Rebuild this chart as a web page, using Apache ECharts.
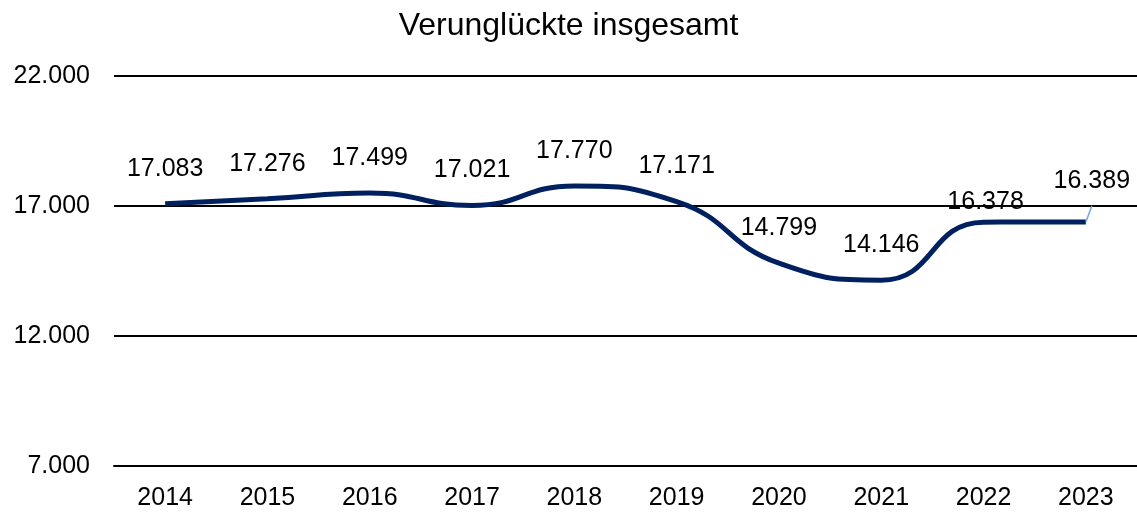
<!DOCTYPE html>
<html>
<head>
<meta charset="utf-8">
<script src="https://cdn.jsdelivr.net/npm/echarts@6/dist/echarts.min.js"></script>
<style>
    html, body { margin: 0; padding: 0; background: #fff; }
    #main { width: 1137px; height: 514px; }
</style>
</head>
<body>
<div id="main"></div>
<script>
    const years = ['2014', '2015', '2016', '2017', '2018', '2019', '2020', '2021', '2022', '2023']
    const verunglueckte = [17083, 17276, 17499, 17021, 17770, 17171, 14799, 14146, 16378, 16389]
    const yMin = 7000
    const yMax = 22000
    const yStep = 5000

    // Tausenderpunkt wie im Original
    function fmt(v) {
        return String(Math.round(v)).replace(/\B(?=(\d{3})+(?!\d))/g, '.')
    }

    const font = 'Liberation Sans, Arial, sans-serif'

    const seriesData = verunglueckte.map((v, i) => {
        if (i === years.length - 1) {
            return {
                value: v,
                label: { offset: [6, -6] },
                labelLine: { show: true, lineStyle: { color: '#6fa8dc', width: 1.5 } }
            }
        }
        if (i === years.length - 2) {
            // Beschriftung 2022 sitzt tiefer, auf der Linie
            return { value: v, label: { offset: [2, 15] } }
        }
        return v
    })

    const myChart = echarts.init(document.getElementById('main'))
    myChart.setOption({
        animation: false,
        title: {
            text: 'Verunglückte insgesamt',
            left: 'center',
            top: 5,
            textStyle: { fontFamily: font, fontSize: 32, fontWeight: 'normal', color: '#000' }
        },
        grid: { left: 114, right: 0, top: 76, bottom: 48 },
        xAxis: {
            type: 'category',
            data: years,
            boundaryGap: true,
            axisLine: { show: true, lineStyle: { color: '#000', width: 2 } },
            axisTick: { show: false },
            axisLabel: { fontFamily: font, fontSize: 25, color: '#000', margin: 20 }
        },
        yAxis: {
            type: 'value',
            min: yMin,
            max: yMax,
            interval: yStep,
            axisLine: { show: false },
            axisTick: { show: false },
            splitLine: { lineStyle: { color: '#000', width: 2 } },
            axisLabel: { fontFamily: font, fontSize: 25, color: '#000', margin: 24, formatter: fmt }
        },
        series: [{
            type: 'line',
            data: seriesData,
            smooth: 0.5,
            showSymbol: true,
            symbol: 'circle',
            symbolSize: 1,
            itemStyle: { color: 'rgba(0,0,0,0)', borderWidth: 0 },
            lineStyle: { color: '#002060', width: 5 },
            label: {
                show: true,
                position: 'top',
                distance: 22,
                fontFamily: font,
                fontSize: 25,
                color: '#000',
                opacity: 1,
                formatter: p => fmt(p.value)
            }
        }]
    })
</script>
</body>
</html>
